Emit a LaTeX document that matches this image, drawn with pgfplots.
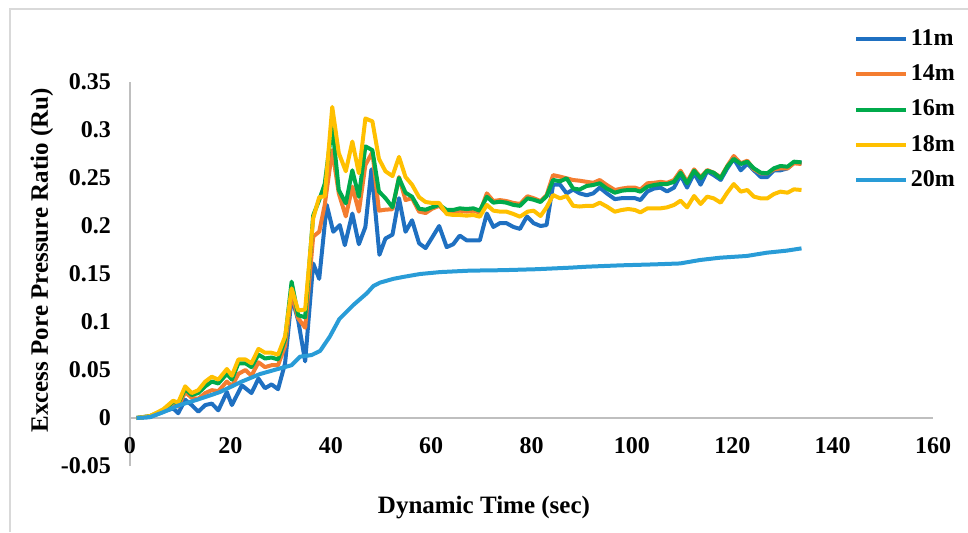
\documentclass[border=0pt]{standalone}
\usepackage{pgfplots}
\pgfplotsset{compat=1.18}
\usepackage{fontspec}
\setmainfont{Liberation Serif}

\definecolor{c11}{RGB}{31,112,193}
\definecolor{c14}{RGB}{244,125,48}
\definecolor{c16}{RGB}{0,170,75}
\definecolor{c18}{RGB}{255,192,0}
\definecolor{c20}{RGB}{41,156,215}
\definecolor{axgray}{RGB}{191,191,191}
\definecolor{framegray}{RGB}{217,217,217}

\begin{document}
\begin{tikzpicture}
\path[use as bounding box] (0,0) rectangle (484pt,266pt);
\draw[framegray, line width=1pt] (5pt,0) -- (5pt,261.5pt) -- (484pt,261.5pt);

\begin{axis}[
    at={(65pt,33pt)}, anchor=south west,
    scale only axis,
    width=401.5pt, height=192pt,
    xmin=0, xmax=160,
    ymin=-0.05, ymax=0.35,
    axis x line*=middle,
    axis y line*=left,
    hide obscured x ticks=false,
    hide obscured y ticks=false,
    axis line style={axgray, line width=0.75pt},
    major tick length=0pt,
    xtick={0,20,40,60,80,100,120,140,160},
    xticklabels={0,20,40,60,80,100,120,140,160},
    ytick={-0.05,0,0.05,0.1,0.15,0.2,0.25,0.3,0.35},
    yticklabels={-0.05,0,0.05,0.1,0.15,0.2,0.25,0.3,0.35},
    ticklabel style={font=\fontsize{12}{14}\selectfont\bfseries},
    xticklabel style={yshift=-6pt},
    yticklabel style={xshift=-6pt},
    xlabel={Dynamic Time (sec)},
    ylabel={Excess Pore Pressure Ratio (Ru)},
    label style={font=\fontsize{12.5}{15}\selectfont\bfseries},
    xlabel style={at={(axis description cs:0.4408,-0.109)}, anchor=center},
    ylabel style={at={(axis description cs:-0.1096,0.536)}, anchor=center},
    legend style={at={(axis description cs:0.9016,1.143)}, anchor=north west,
        draw=none, fill=none, inner sep=0pt, row sep=5.6pt,
        font=\fontsize{12}{14}\selectfont\bfseries,
        nodes={inner sep=1.25pt}},
    legend cell align=left,
    legend image code/.code={\draw[#1, line width=2pt] (0pt,0pt) -- (25pt,0pt);},
    every axis plot/.append style={line width=2pt, line join=round, no marks},
]

\addplot[c11] coordinates {
(1.3,0) (4,0.001) (6.6,0.0066) (8.6,0.010) (9.6,0.005) (11.0,0.019) (12.3,0.0135)
(13.6,0.0066) (15.0,0.0135) (16.3,0.015) (17.6,0.008) (19.3,0.027) (20.3,0.0135)
(22.3,0.034) (24.2,0.026) (25.6,0.041) (26.9,0.031) (28.2,0.035) (29.5,0.030)
(30.9,0.057) (32.2,0.126) (33.5,0.102) (34.9,0.059) (36.5,0.161) (37.7,0.145)
(39.2,0.222) (40.5,0.194) (41.8,0.201) (42.8,0.180) (44.3,0.213) (45.6,0.181)
(46.9,0.199) (48.1,0.259) (49.7,0.170) (50.9,0.187) (52.3,0.191) (53.6,0.229)
(54.9,0.194) (56.2,0.206) (57.6,0.182) (58.9,0.177) (60.2,0.188) (61.6,0.200)
(63.1,0.178) (64.4,0.181) (65.7,0.190) (67.1,0.185) (68.4,0.185) (69.7,0.185)
(71.1,0.213) (72.4,0.199) (73.7,0.203) (75.0,0.203) (76.4,0.199) (77.7,0.197)
(79.1,0.210) (80.4,0.203) (81.8,0.200) (83.0,0.201) (84.3,0.243) (85.7,0.243)
(87.0,0.234) (88.3,0.238) (89.6,0.234) (91.0,0.232) (92.3,0.234) (93.6,0.240)
(95.0,0.234) (96.6,0.228) (98.0,0.229) (99.3,0.229) (100.6,0.229) (101.7,0.227)
(103.1,0.236) (104.4,0.239) (105.7,0.240) (107.0,0.236) (108.4,0.240) (109.7,0.253)
(111.0,0.240) (112.4,0.255) (113.7,0.243) (115.0,0.257) (116.3,0.253) (117.7,0.248)
(119.0,0.260) (120.3,0.270) (121.7,0.258) (123.0,0.265) (124.3,0.258) (125.7,0.251)
(127.0,0.251) (128.3,0.258) (129.6,0.258) (131.0,0.260) (132.3,0.266) (133.8,0.266)
};
\addplot[c14] coordinates {
(1.3,0) (4,0.002) (6.6,0.007) (8.6,0.014) (9.6,0.012) (11.0,0.027) (12.3,0.021)
(13.6,0.020) (15.0,0.026) (16.3,0.029) (17.6,0.028) (19.3,0.038) (20.3,0.033)
(21.6,0.046) (23.0,0.050) (24.2,0.044) (25.6,0.058) (26.9,0.053) (28.2,0.055)
(29.5,0.055) (30.9,0.075) (32.2,0.130) (33.5,0.104) (34.9,0.094) (36.5,0.189)
(37.7,0.194) (38.8,0.222) (40.3,0.279) (41.6,0.234) (43.0,0.210) (44.3,0.241)
(45.6,0.215) (46.9,0.2635) (48.3,0.277) (49.6,0.216) (50.9,0.217) (52.3,0.2175)
(53.6,0.251) (54.9,0.227) (56.2,0.229) (57.6,0.215) (58.9,0.2135) (60.2,0.218)
(61.6,0.221) (63.1,0.2135) (64.4,0.214) (65.7,0.216) (67.1,0.215) (68.4,0.216)
(69.7,0.214) (71.1,0.234) (72.4,0.226) (73.7,0.227) (75.0,0.226) (76.4,0.224)
(77.7,0.223) (79.2,0.231) (80.4,0.229) (81.8,0.226) (83.0,0.232) (84.3,0.253)
(85.7,0.2514) (87.0,0.2497) (88.3,0.2479) (89.6,0.2472) (91.0,0.246) (92.3,0.245)
(93.6,0.2479) (95.0,0.2427) (96.6,0.2375) (98.0,0.239) (99.3,0.240) (100.6,0.240)
(101.7,0.238) (103.1,0.2445) (104.4,0.245) (105.7,0.246) (107.0,0.245) (108.4,0.2479)
(109.7,0.2576) (111.0,0.246) (112.4,0.259) (113.7,0.2507) (115.0,0.2583) (116.3,0.2555)
(117.7,0.2507) (119.0,0.2625) (120.3,0.2729) (121.7,0.2653) (123.0,0.268) (124.3,0.259)
(125.7,0.2549) (127.0,0.2549) (128.3,0.259) (129.6,0.260) (131.0,0.260) (132.3,0.2653)
(133.8,0.2646)
};
\addplot[c16] coordinates {
(1.3,0) (4,0.002) (6.6,0.008) (8.6,0.017) (9.6,0.015) (11.0,0.030) (12.3,0.024)
(13.6,0.026) (15.0,0.033) (16.3,0.038) (17.6,0.036) (19.3,0.046) (20.3,0.040)
(21.6,0.057) (23.0,0.057) (24.2,0.053) (25.6,0.066) (26.9,0.062) (28.2,0.063)
(29.5,0.061) (30.9,0.082) (32.2,0.142) (33.5,0.107) (34.9,0.105) (36.5,0.211)
(37.7,0.227) (38.8,0.244) (40.3,0.305) (41.6,0.2375) (43.0,0.2236) (44.3,0.258)
(45.6,0.2305) (46.9,0.283) (48.3,0.279) (49.6,0.236) (50.9,0.229) (52.3,0.2195)
(53.6,0.250) (54.9,0.2347) (56.2,0.2305) (57.6,0.218) (58.9,0.217) (60.2,0.2195)
(61.6,0.222) (63.1,0.2167) (64.4,0.2167) (65.7,0.2184) (67.1,0.2177) (68.4,0.2184)
(69.7,0.216) (71.1,0.2305) (72.4,0.2243) (73.7,0.2253) (75.0,0.2243) (76.4,0.222)
(77.7,0.221) (79.2,0.2288) (80.4,0.2274) (81.8,0.225) (83.0,0.231) (84.3,0.248)
(85.7,0.2465) (87.0,0.2497) (88.3,0.239) (89.6,0.238) (91.0,0.2417) (92.3,0.2427)
(93.6,0.2445) (95.0,0.239) (96.6,0.2347) (98.0,0.2368) (99.3,0.2375) (100.6,0.2375)
(101.7,0.2358) (103.1,0.241) (104.4,0.2427) (105.7,0.2437) (107.0,0.2437) (108.4,0.246)
(109.7,0.2555) (111.0,0.2445) (112.4,0.2576) (113.7,0.2497) (115.0,0.2576) (116.3,0.2555)
(117.7,0.2497) (119.0,0.2618) (120.3,0.270) (121.7,0.2646) (123.0,0.267) (124.3,0.2601)
(125.7,0.2555) (127.0,0.2549) (128.3,0.2601) (129.6,0.2625) (131.0,0.2618) (132.3,0.267)
(133.8,0.2663)
};
\addplot[c18] coordinates {
(1.3,0) (4,0.002) (6.6,0.009) (8.6,0.018) (9.6,0.016) (11.0,0.033) (12.3,0.026)
(13.6,0.029) (15.0,0.038) (16.3,0.043) (17.6,0.040) (19.3,0.051) (20.3,0.044)
(21.6,0.061) (23.0,0.061) (24.2,0.057) (25.6,0.072) (26.9,0.068) (28.2,0.068)
(29.5,0.066) (30.9,0.085) (32.2,0.135) (33.5,0.112) (34.9,0.113) (36.5,0.208)
(37.7,0.230) (38.8,0.231) (40.3,0.324) (41.6,0.276) (43.0,0.257) (44.3,0.288)
(45.6,0.255) (46.9,0.312) (48.3,0.309) (49.6,0.270) (50.9,0.257) (52.3,0.252)
(53.6,0.272) (54.9,0.251) (56.2,0.243) (57.6,0.230) (58.9,0.225) (60.2,0.224)
(61.6,0.224) (63.1,0.2125) (64.4,0.2115) (65.7,0.2115) (67.1,0.2108) (68.4,0.2115)
(69.7,0.2097) (71.1,0.222) (72.4,0.216) (73.7,0.215) (75.0,0.215) (76.4,0.2125)
(77.7,0.2097) (79.2,0.2149) (80.4,0.216) (81.8,0.2104) (83.0,0.2194) (84.3,0.2323)
(85.7,0.2288) (87.0,0.2313) (88.3,0.221) (89.6,0.2203) (91.0,0.221) (92.3,0.221)
(93.6,0.2243) (95.0,0.2203) (96.6,0.2149) (98.0,0.2167) (99.3,0.2177) (100.6,0.2167)
(101.7,0.2142) (103.1,0.2184) (104.4,0.2184) (105.7,0.2184) (107.0,0.2194) (108.4,0.2219)
(109.7,0.2264) (111.0,0.2194) (112.4,0.2313) (113.7,0.2229) (115.0,0.2306) (116.3,0.2288)
(117.7,0.2243) (119.0,0.2347) (120.3,0.2437) (121.7,0.2358) (123.0,0.2375) (124.3,0.2306)
(125.7,0.2288) (127.0,0.2288) (128.3,0.2333) (129.6,0.2358) (131.0,0.2347) (132.3,0.2382)
(133.8,0.2375)
};
\addplot[c20] coordinates {
(1.3,0) (4,0.001) (6.6,0.006) (9.6,0.013) (13.6,0.0194) (17.9,0.027) (22.3,0.038)
(25.9,0.0458) (29.9,0.0517) (32.2,0.055) (33.9,0.0639) (36.2,0.0656) (37.9,0.070)
(39.8,0.0847) (41.7,0.103) (44.5,0.1177) (47.2,0.130) (48.5,0.1375) (49.8,0.141)
(52.5,0.145) (54.5,0.147) (57.8,0.150) (61.8,0.152) (67.7,0.1535) (74.4,0.154)
(81.0,0.155) (87.7,0.1566) (91.0,0.1576) (97.6,0.159) (104.3,0.160) (109.6,0.161)
(113.6,0.1646) (117.6,0.167) (122.9,0.1688) (126.9,0.1722) (130.8,0.1743) (133.8,0.1767)
};
\legend{11m,14m,16m,18m,20m}
\end{axis}
\end{tikzpicture}
\end{document}
